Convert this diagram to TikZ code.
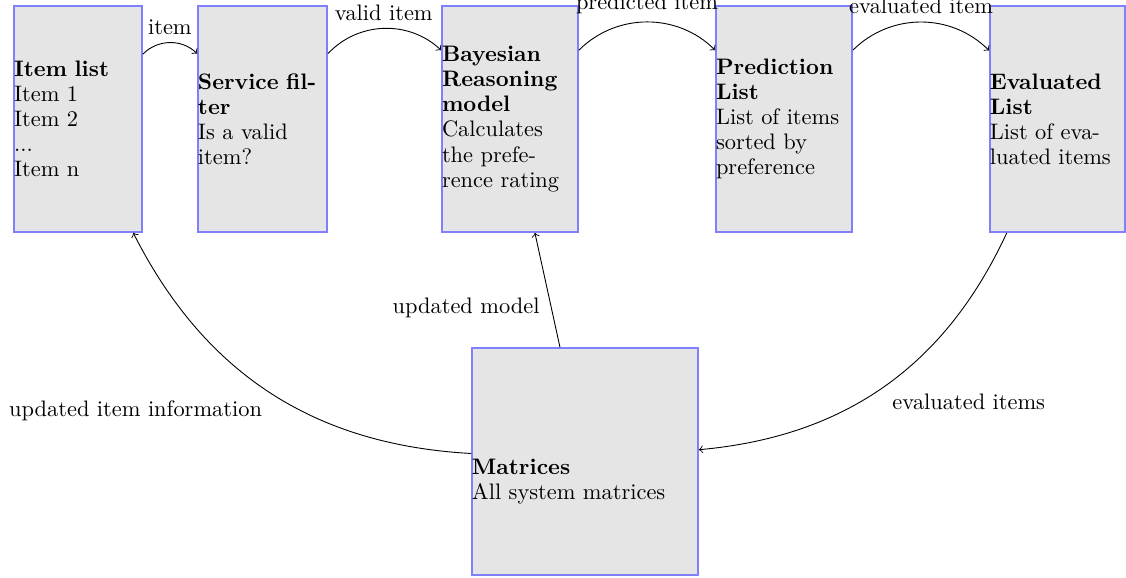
\documentclass[tikz,border=0pt]{standalone}
\begin{document}
\begin{tikzpicture}[x=0.4464pt,y=-0.4464pt,
  box/.style={draw=blue!50, thick, fill=gray!20, rectangle,
    inner xsep=0pt, inner ysep=0pt, align=left,
    minimum height=100.9pt, font=\fontsize{10}{11.2}\selectfont},
  lbl/.style={font=\fontsize{10}{12}\selectfont},
  flow/.style={->}
]
\useasboundingbox (0,0) rectangle (1126,577);

% processing chain
\node[box, text width=57.1pt] (items) at (78,119)
  {\textbf{Item list}\\Item 1\\Item 2\\...\\Item n};
\node[box, text width=57.6pt] (filter) at (262.5,119)
  {\textbf{Service fil-}\\\textbf{ter}\\Is a valid\\item?};
\node[box, text width=60.7pt] (bayes) at (510,119)
  {\textbf{Bayesian}\\\textbf{Reasoning}\\\textbf{model}\\Calculates\\the prefe-\\rence rating};
\node[box, text width=60.7pt] (pred) at (784,119)
  {\textbf{Prediction}\\\textbf{List}\\List of items\\sorted by\\preference};
\node[box, text width=60.3pt] (eval) at (1057.5,119)
  {\textbf{Evaluated}\\\textbf{List}\\List of eva-\\luated items};

% shared storage; the strut leaves room above the text
\node[box, text width=100.9pt, minimum height=101.3pt] (mat) at (585,461.5)
  {\rule{0pt}{24.8pt}\textbf{Matrices}\\All system matrices};

% forward flow
\draw[flow] (items) to[bend left=45] node[lbl, above] {item} (filter);
\draw[flow] (filter) to[bend left=45] node[lbl, above] {valid item} (bayes);
\draw[flow] (bayes) to[bend left=45] node[lbl, above] {predicted item} (pred);
\draw[flow] (pred) to[bend left=45] node[lbl, above] {evaluated item} (eval);

% feedback through the matrices
\draw[flow] (eval) to[bend left] node[lbl, below right] {evaluated items} (mat);
\draw[flow] (mat) -- node[lbl, below left] {updated model} (bayes);
\draw[flow] (mat) to[bend left] node[lbl, below left] {updated item information} (items);
\end{tikzpicture}
\end{document}
